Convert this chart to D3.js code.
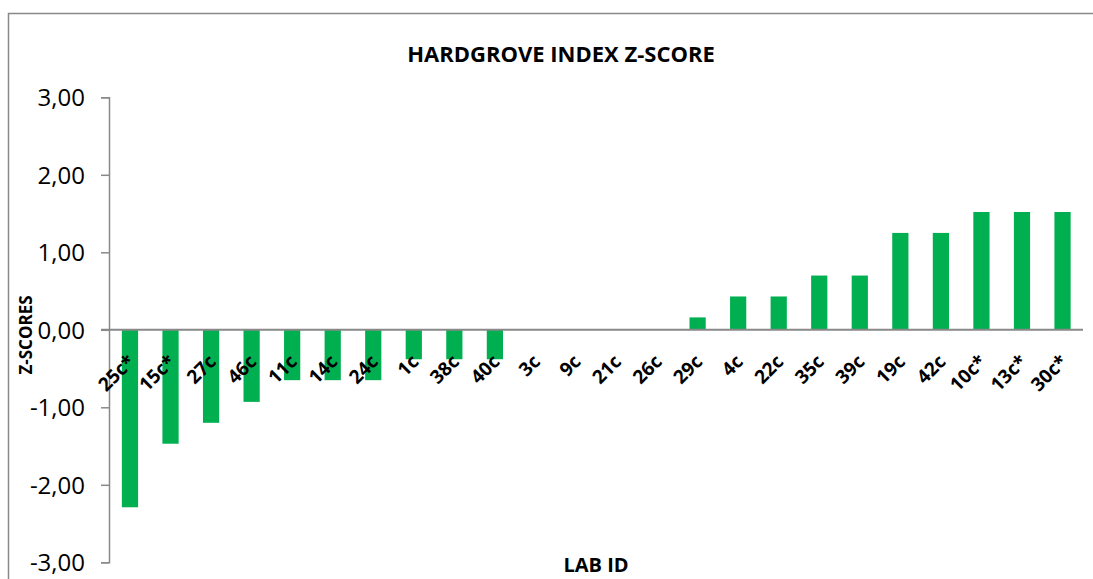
<!DOCTYPE html>
<html>
<head>
<meta charset="utf-8">
<script src="https://cdn.jsdelivr.net/npm/d3@7"></script>
<style>
  body { margin: 0; background: #fff; }
  svg { display: block; font-family: "Open Sans", sans-serif; }
  .y-axis text { font-family: "Open Sans", sans-serif; font-size: 24px; fill: #000; }
  .y-axis path, .y-axis line { stroke: #898989; stroke-width: 1.5; }
  .lab text { font-size: 19px; font-weight: bold; fill: #000; }
  .title { font-size: 22px; font-weight: bold; }
  .axis-title { font-size: 20px; font-weight: bold; }
</style>
</head>
<body>
<svg width="1093" height="579"></svg>
<script>
// lab ids in the order shown on the chart
const labs = ["25c*", "15c*", "27c", "46c", "11c", "14c", "24c", "1c", "38c", "40c",
  "3c", "9c", "21c", "26c", "29c", "4c", "22c", "35c", "39c", "19c", "42c",
  "10c*", "13c*", "30c*"]

// z-score per lab
const zScores = [-2.29, -1.47, -1.20, -0.93, -0.65, -0.65, -0.65, -0.38, -0.38, -0.38,
  0, 0, 0, 0, 0.16, 0.43, 0.43, 0.70, 0.70, 1.25, 1.25,
  1.52, 1.52, 1.52]

const yTicks = [-3, -2, -1, 0, 1, 2, 3]

const data = labs.map((lab, i) => ({ lab: lab, z: zScores[i] }))

const svg = d3.select('svg')

// outer chart frame
svg.append("rect")
  .attr("x", 8.5)
  .attr("y", 13.5)
  .attr("width", 1200)
  .attr("height", 700)
  .attr("fill", "none")
  .attr("stroke", "#898989")
  .attr("stroke-width", 1.5)

const locale = d3.formatLocale({
  decimal: ",", thousands: ".", grouping: [3], currency: ["", ""], minus: "-"
})

const scaleX = d3.scaleBand()
  .domain(labs)
  .range([109.7, 1082.8])
  .paddingInner(0.6)
  .paddingOuter(0.3)

const scaleY = d3.scaleLinear()
  .domain([-3, 3])
  .range([562.3, 97.3])

const axisY = d3.axisLeft(scaleY)
  .tickValues(yTicks)
  .tickFormat(locale.format(".2f"))
  .tickSizeInner(8)
  .tickSizeOuter(8)
  .tickPadding(16)

svg.append("g")
  .attr("class", "y-axis")
  .attr("transform", "translate(109, 0)")
  .call(axisY)
  .call(g => g.selectAll(".tick text").attr("dy", "0.36em"))

// bars
svg.selectAll("rect.bar")
  .data(data)
  .enter()
  .append("rect")
  .attr("class", "bar")
  .attr("x", d => scaleX(d.lab))
  .attr("width", scaleX.bandwidth())
  .attr("y", d => scaleY(Math.max(0, d.z)))
  .attr("height", d => Math.abs(scaleY(d.z) - scaleY(0)))
  .attr("fill", "#00b050")

// zero line (category axis)
svg.append("line")
  .attr("x1", 101)
  .attr("x2", 1083)
  .attr("y1", scaleY(0))
  .attr("y2", scaleY(0))
  .attr("stroke", "#898989")
  .attr("stroke-width", 2)

// rotated lab labels just under the zero line
const labels = svg.append("g").attr("class", "lab")

labels.selectAll("text")
  .data(data)
  .enter()
  .append("text")
  .attr("text-anchor", "end")
  .attr("transform", d => {
    const x = scaleX(d.lab) + scaleX.bandwidth() / 2 + 6
    const y = scaleY(0) + 33
    return `translate(${x}, ${y}) rotate(-45)`
  })
  .text(d => d.lab)

svg.append("text")
  .attr("class", "title")
  .attr("x", 561)
  .attr("y", 62)
  .attr("text-anchor", "middle")
  .text("HARDGROVE INDEX Z-SCORE")

svg.append("text")
  .attr("class", "axis-title")
  .attr("x", 596)
  .attr("y", 572)
  .attr("text-anchor", "middle")
  .text("LAB ID")

svg.append("text")
  .attr("class", "axis-title")
  .attr("transform", "translate(32, 335) rotate(-90)")
  .attr("text-anchor", "middle")
  .style("font-size", "17px")
  .text("Z-SCORES")
</script>
</body>
</html>
